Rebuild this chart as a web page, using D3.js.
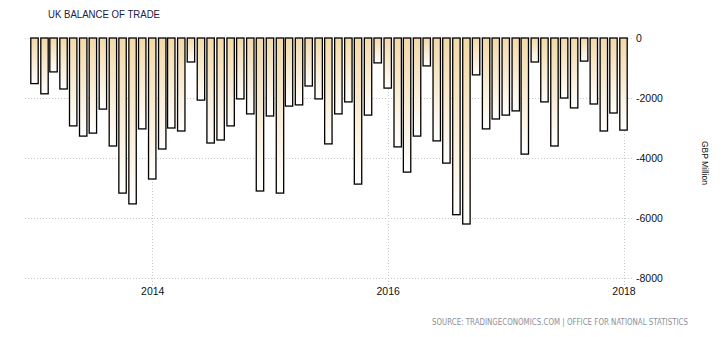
<!DOCTYPE html>
<html>
<head>
<meta charset="utf-8">
<script src="https://cdn.jsdelivr.net/npm/d3@7"></script>
<style>
  html, body { margin: 0; padding: 0; background: #fff; }
  svg { display: block; }
</style>
</head>
<body>
<svg id="chart" width="721" height="337"></svg>
<script>
// ---- data ----
const startMonth = "2013-01";
const balance = [
  -1520, -1860, -1130, -1700, -2930, -3270, -3170, -2370, -3600, -5170, -5530, -3030,
  -4700, -3700, -3000, -3100, -800, -2070, -3500, -3400, -2930, -2030, -2530, -5100,
  -2600, -5170, -2270, -2230, -1600, -2030, -3530, -2530, -2130, -4870, -2570, -830,
  -1670, -3630, -4470, -3270, -930, -3430, -4170, -5890, -6200, -1230, -3030, -2700,
  -2570, -2430, -3870, -800, -2130, -3600, -2000, -2330, -770, -2200, -3100, -2500,
  -3070
];
const yTicks = [0, -2000, -4000, -6000, -8000];
const xTickYears = [2014, 2016, 2018];
const titleText = "UK BALANCE OF TRADE";
const unitText = "GBP Million";
const sourceText = "SOURCE: TRADINGECONOMICS.COM | OFFICE FOR NATIONAL STATISTICS";

// ---- build ----
const parse = d3.timeParse("%Y-%m");
const start = parse(startMonth);
const data = balance.map((v, i) => ({ date: d3.timeMonth.offset(start, i), value: v }));

const svg = d3.select("#chart");
const font = "'Liberation Sans', Arial, sans-serif";

const x = d3.scaleTime()
  .domain([data[0].date, data[data.length - 1].date])
  .range([34.5, 623.5]);
const y = d3.scaleLinear().domain([-8000, 0]).range([278, 38]);

const defs = svg.append("defs");
const grad = defs.append("linearGradient")
  .attr("id", "barGrad").attr("x1", 0).attr("y1", 0).attr("x2", 0).attr("y2", 1);
grad.append("stop").attr("offset", "0%").attr("stop-color", "#f3d9a8");
grad.append("stop").attr("offset", "100%").attr("stop-color", "#ffffff");

// horizontal grid
svg.append("g").selectAll("line").data(yTicks).join("line")
  .attr("x1", 25).attr("x2", 632)
  .attr("y1", d => Math.round(y(d)) + 0.5).attr("y2", d => Math.round(y(d)) + 0.5)
  .attr("stroke", "#c8c8c8").attr("stroke-width", 1).attr("stroke-dasharray", "1,2");

// vertical grid at years
svg.append("g").selectAll("line").data(xTickYears).join("line")
  .attr("x1", d => Math.round(x(new Date(d, 0, 1))) + 0.5)
  .attr("x2", d => Math.round(x(new Date(d, 0, 1))) + 0.5)
  .attr("y1", 38).attr("y2", 286)
  .attr("stroke", "#c8c8c8").attr("stroke-width", 1).attr("stroke-dasharray", "1,2");

// bars
const bw = 7.4;
svg.append("g").selectAll("rect").data(data).join("rect")
  .attr("x", d => x(d.date) - bw / 2)
  .attr("y", y(0))
  .attr("width", bw)
  .attr("height", d => y(d.value) - y(0))
  .attr("fill", "url(#barGrad)")
  .attr("stroke", "#000")
  .attr("stroke-width", 1.3);

// right axis labels
const yAxis = d3.axisRight(y).tickValues(yTicks).tickSize(0).tickPadding(0)
  .tickFormat(d => d === 0 ? "0" : "-" + Math.abs(d));
const ga = svg.append("g").attr("transform", "translate(636,0)").call(yAxis);
ga.select(".domain").remove();
ga.selectAll("text")
  .attr("font-family", font)
  .attr("font-size", 10.5).attr("fill", "#111").attr("dy", "0.35em");

// bottom axis labels
const xAxis = d3.axisBottom(x)
  .tickValues(xTickYears.map(yr => new Date(yr, 0, 1)))
  .tickSize(0).tickPadding(0).tickFormat(d3.timeFormat("%Y"));
const gx = svg.append("g").attr("transform", "translate(0,288)").call(xAxis);
gx.select(".domain").remove();
gx.selectAll("text")
  .attr("font-family", font)
  .attr("font-size", 10.5).attr("fill", "#111");

// title
svg.append("text").attr("x", 48).attr("y", 18)
  .attr("font-family", font).attr("font-size", 11.5)
  .attr("fill", "#20204a").attr("textLength", 112).attr("lengthAdjust", "spacingAndGlyphs")
  .text(titleText);

// unit label
svg.append("text")
  .attr("transform", "translate(702,163) rotate(90)")
  .attr("text-anchor", "middle")
  .attr("font-family", font).attr("font-size", 9)
  .attr("fill", "#111").attr("textLength", 44).attr("lengthAdjust", "spacingAndGlyphs")
  .text(unitText);

// source
svg.append("text").attr("x", 432).attr("y", 325)
  .attr("font-family", "'DejaVu Sans Condensed', 'DejaVu Sans', sans-serif").attr("font-size", 8.5)
  .attr("fill", "#8a8f99").attr("textLength", 256).attr("lengthAdjust", "spacingAndGlyphs")
  .text(sourceText);
</script>
</body>
</html>
